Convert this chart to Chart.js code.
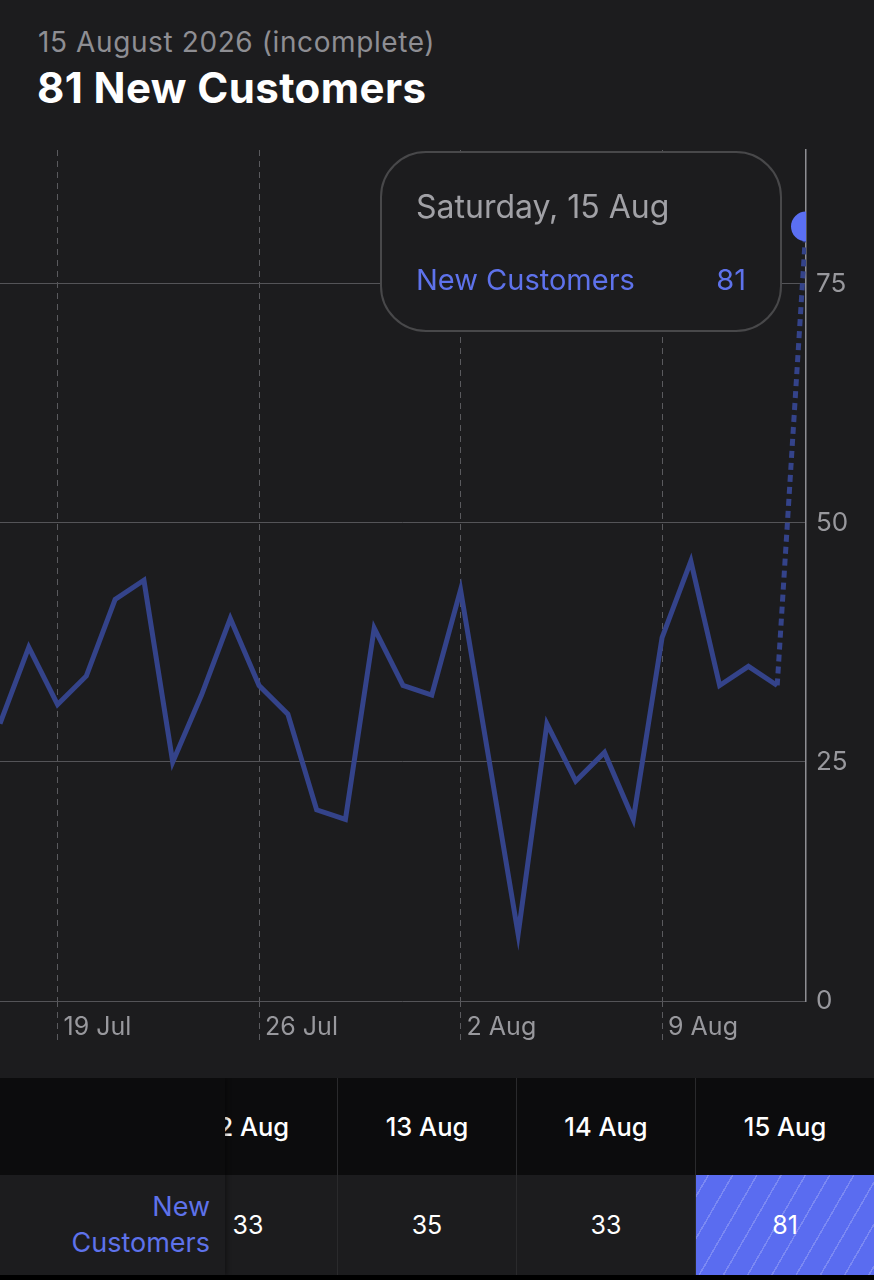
<!DOCTYPE html>
<html>
<head>
<meta charset="utf-8">
<script src="https://cdn.jsdelivr.net/npm/chart.js@4.4.1/dist/chart.umd.min.js"></script>
<style>
html,body{margin:0;padding:0;background:#1c1c1e;width:874px;height:1280px;overflow:hidden;font-family:Inter,"Noto Sans",sans-serif;}
#sub{position:absolute;left:38px;top:25px;font-size:28px;letter-spacing:0.6px;color:#8e8e93;line-height:34px;white-space:nowrap;}
#title{position:absolute;left:37px;top:62px;font-size:42px;letter-spacing:0.4px;font-weight:700;color:#fff;line-height:52px;white-space:nowrap;}
#wrap{position:absolute;left:0;top:130px;width:874px;height:930px;}
#tbl{position:absolute;left:0;top:1078px;width:874px;height:197px;overflow:hidden;background:#1c1c1e;}
#cols{position:absolute;right:0;top:0;display:flex;width:max-content;}
.col{width:179px;flex:0 0 179px;box-sizing:border-box;border-left:1px solid #2a2a2c;}
.hd{height:97px;background:#0c0c0d;color:#fff;font-size:25.5px;font-weight:500;display:flex;align-items:center;justify-content:center;}
.bd{height:100px;background:#1c1c1e;color:#fff;font-size:25px;display:flex;align-items:center;justify-content:center;}
.bd.sel{background-color:#5a6cf0;background-image:repeating-linear-gradient(120deg,rgba(255,255,255,0) 0px,rgba(255,255,255,0) 10px,rgba(255,255,255,0.2) 10px,rgba(255,255,255,0.2) 11.5px,rgba(255,255,255,0) 11.5px,rgba(255,255,255,0) 21px);}
#rowhead{position:absolute;left:0;top:0;width:225px;height:197px;z-index:2;box-shadow:2px 0 4px rgba(0,0,0,0.35);}
#rowhead .h{height:97px;background:#0c0c0d;}
#rowhead .b{height:100px;background:#1c1c1e;color:#5e72eb;font-size:27px;display:flex;align-items:center;justify-content:flex-end;padding-right:15px;box-sizing:border-box;}
#rowhead .b span{display:block;text-align:right;line-height:36px;max-width:170px;}
#bottom{position:absolute;left:0;top:1275px;width:874px;height:5px;background:#000;}
</style>
</head>
<body>
<div id="sub"></div>
<div id="title"></div>
<div id="wrap"><canvas id="c"></canvas></div>
<div id="tbl">
  <div id="cols"></div>
  <div id="rowhead"><div class="h"></div><div class="b"><span id="rowname"></span></div></div>
</div>
<div id="bottom"></div>
<script>
// ---- data ----
const categories = ['18 Jul','19 Jul','20 Jul','21 Jul','22 Jul','23 Jul','24 Jul','25 Jul','26 Jul','27 Jul',
  '28 Jul','29 Jul','30 Jul','31 Jul','1 Aug','2 Aug','3 Aug','4 Aug','5 Aug','6 Aug','7 Aug','8 Aug',
  '9 Aug','10 Aug','11 Aug','12 Aug','13 Aug','14 Aug','15 Aug'];
const values = [29, 37, 31, 34, 42, 44, 25, 32, 40, 33, 30, 20, 19, 39, 33, 32, 43, 25, 7, 29, 23, 26, 19, 38, 46, 33, 35, 33, 81];
const tickLabels = ['19 Jul', '26 Jul', '2 Aug', '9 Aug'];
const tickIndices = [2, 9, 16, 23];
const yTicks = [0, 25, 50, 75];
const seriesName = 'New Customers';
const selectedTitle = 'Saturday, 15 Aug';
const headerDate = '15 August 2026 (incomplete)';

const last = values.length - 1;
document.getElementById('sub').textContent = headerDate;
document.getElementById('title').textContent = values[last] + ' ' + seriesName;
document.getElementById('rowname').textContent = seriesName;

const cols = document.getElementById('cols');
categories.forEach((c, i) => {
  const col = document.createElement('div');
  col.className = 'col';
  const hd = document.createElement('div'); hd.className = 'hd'; hd.textContent = c;
  const bd = document.createElement('div'); bd.className = 'bd' + (i === last ? ' sel' : ''); bd.textContent = values[i];
  col.appendChild(hd); col.appendChild(bd);
  cols.appendChild(col);
});

const FONT = 'Inter, "Noto Sans", sans-serif';

const tooltipBox = {
  id: 'tooltipBox',
  afterDraw(chart) {
    const pt = chart.getDatasetMeta(0).data[last];
    const ctx = chart.ctx;
    const w = 400, h = 179, r = 45;
    const right = pt.x - 25, left = right - w, top = chart.chartArea.top + 2;
    ctx.save();
    ctx.beginPath();
    ctx.roundRect(left, top, w, h, r);
    ctx.fillStyle = '#1c1c1e';
    ctx.fill();
    ctx.lineWidth = 2;
    ctx.strokeStyle = '#48484a';
    ctx.stroke();
    ctx.textBaseline = 'middle';
    ctx.textAlign = 'left';
    ctx.font = '400 32px ' + FONT;
    ctx.fillStyle = '#a1a1a6';
    ctx.fillText(selectedTitle, left + 35, top + 56);
    ctx.font = '400 29px ' + FONT;
    ctx.fillStyle = '#5e72eb';
    ctx.fillText(seriesName, left + 35, top + 129);
    ctx.textAlign = 'right';
    ctx.fillText(String(values[last]), right - 35, top + 129);
    ctx.restore();
  }
};

new Chart(document.getElementById('c'), {
  type: 'line',
  data: {
    labels: categories,
    datasets: [{
      label: seriesName,
      data: values,
      borderColor: '#34438a',
      borderWidth: 5,
      borderJoinStyle: 'miter',
      borderCapStyle: 'butt',
      tension: 0,
      segment: { borderDash: c => c.p1DataIndex === last ? [7, 5] : undefined },
      pointRadius: c => c.dataIndex === last ? 15 : 0,
      pointHoverRadius: c => c.dataIndex === last ? 15 : 0,
      pointBackgroundColor: '#5b6ff2',
      pointBorderWidth: 0,
      clip: { left: 0, top: 30, right: 0, bottom: 5 }
    }]
  },
  options: {
    responsive: true,
    maintainAspectRatio: false,
    animation: false,
    events: [],
    layout: { autoPadding: false, padding: { top: 20, left: 0, right: 0, bottom: 0 } },
    plugins: { legend: { display: false }, tooltip: { enabled: false } },
    scales: {
      x: {
        type: 'category',
        offset: false,
        afterBuildTicks: s => { s.ticks = tickIndices.map(v => ({ value: v })); },
        afterFit: s => { s.height = 59; s.paddingLeft = 0; s.paddingRight = 0; },
        grid: { color: '#5a5a5e', lineWidth: 1, drawTicks: true, tickLength: 40, tickColor: '#5a5a5e', tickBorderDash: [6, 5], offset: false },
        border: { display: false, dash: [6, 5] },
        ticks: {
          autoSkip: false, maxRotation: 0, minRotation: 0, align: 'start', labelOffset: 6, padding: -29,
          color: '#98989d', font: { size: 25, family: FONT },
          callback: (v, i) => tickLabels[i]
        }
      },
      y: {
        position: 'right',
        min: 0,
        max: 89,
        afterBuildTicks: s => { s.ticks = yTicks.map(v => ({ value: v })); },
        afterFit: s => { s.width = 68; s.paddingTop = 0; s.paddingBottom = 0; },
        grid: { color: '#545458', lineWidth: 1, drawTicks: false },
        border: { display: true, color: '#8e8e93', width: 1.5 },
        ticks: { padding: 10, color: '#98989d', font: { size: 26, family: FONT } }
      }
    }
  },
  plugins: [tooltipBox]
});
</script>
</body>
</html>
